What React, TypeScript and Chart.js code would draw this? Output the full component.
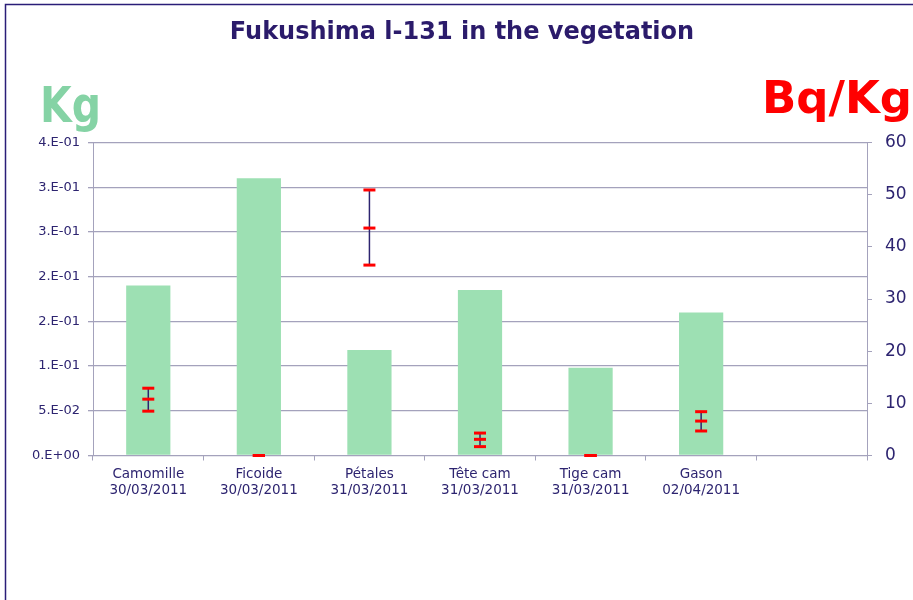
import React, { useEffect, useRef } from "react";
import { Chart, registerables } from "chart.js";

Chart.register(...registerables);

const categories: (string | string[])[] = [
  ["Camomille", "30/03/2011"],
  ["Ficoide", "30/03/2011"],
  ["Pétales", "31/03/2011"],
  ["Tête cam", "31/03/2011"],
  ["Tige cam", "31/03/2011"],
  ["Gason", "02/04/2011"],
  "",
];
const massKg = [0.190, 0.310, 0.118, 0.185, 0.098, 0.160, null];
const activityBqKg = [10.8, 0, 43.6, 3.1, 0, 6.6, null];
const activityHigh = [12.9, 0, 50.9, 4.3, 0, 8.4, null];
const activityLow = [8.5, 0, 36.5, 1.7, 0, 4.7, null];
const leftTickLabels = ["0.E+00", "5.E-02", "1.E-01", "2.E-01", "2.E-01", "3.E-01", "3.E-01", "4.E-01"];

const NAVY = "#2d2470";
const GRID = "#a4a2bc";
const FONT = "'DejaVu Sans', Verdana, sans-serif";

const decorPlugin = {
  id: "decor",
  beforeDraw(chart: any) {
    const ctx = chart.ctx;
    ctx.save();
    ctx.fillStyle = "#ffffff";
    ctx.fillRect(0, 0, chart.width, chart.height);
    ctx.strokeStyle = "#2a1d78";
    ctx.lineWidth = 1.5;
    ctx.beginPath();
    ctx.moveTo(5.5, chart.height);
    ctx.lineTo(5.5, 4.5);
    ctx.lineTo(chart.width, 4.5);
    ctx.stroke();
    ctx.restore();
  },
  afterDraw(chart: any) {
    const ctx = chart.ctx;
    ctx.save();
    ctx.textBaseline = "alphabetic";
    ctx.fillStyle = "#2b1b6b";
    ctx.font = `bold 24px ${FONT}`;
    ctx.textAlign = "center";
    ctx.fillText("Fukushima l-131 in the vegetation", 462, 39);

    ctx.fillStyle = "#85d3a5";
    ctx.font = `bold 44px ${FONT}`;
    ctx.textAlign = "left";
    ctx.save();
    ctx.translate(40, 122);
    ctx.scale(0.93, 1.12);
    ctx.fillText("Kg", 0, 0);
    ctx.restore();

    ctx.fillStyle = "#ff0000";
    ctx.font = `bold 45px ${FONT}`;
    ctx.textAlign = "right";
    ctx.fillText("Bq/Kg", 912, 113);
    ctx.restore();
  },
};

const errorBarPlugin = {
  id: "errorBars",
  afterDatasetsDraw(chart: any) {
    const ctx = chart.ctx;
    const x = chart.scales.x;
    const y1 = chart.scales.y1;
    ctx.save();
    for (let i = 0; i < activityBqKg.length; i++) {
      const v = activityBqKg[i];
      if (v === null) continue;
      const px = x.getPixelForValue(i);
      const yc = y1.getPixelForValue(v);
      const yh = y1.getPixelForValue(activityHigh[i] as number);
      const yl = y1.getPixelForValue(activityLow[i] as number);
      ctx.strokeStyle = NAVY;
      ctx.lineWidth = 1.5;
      ctx.beginPath();
      ctx.moveTo(px, yh);
      ctx.lineTo(px, yl);
      ctx.stroke();
      ctx.strokeStyle = "#ff0000";
      ctx.lineWidth = 3;
      for (const yy of [yh, yc, yl]) {
        ctx.beginPath();
        ctx.moveTo(px - 6, yy);
        ctx.lineTo(px + 6, yy);
        ctx.stroke();
      }
    }
    ctx.restore();
  },
};

export default function App() {
  const ref = useRef<HTMLCanvasElement | null>(null);
  useEffect(() => {
    if (!ref.current) return;
    const chart = new Chart(ref.current, {
      type: "bar",
      data: {
        labels: categories as any,
        datasets: [
          {
            label: "Kg",
            data: massKg as any,
            backgroundColor: "#9de0b3",
            borderWidth: 0,
            barPercentage: 0.4,
            categoryPercentage: 1,
            yAxisID: "y",
          },
        ],
      },
      options: {
        responsive: false,
        animation: false,
        devicePixelRatio: 1,
        layout: { padding: { top: 142.5, left: 0, right: 0, bottom: 0 } },
        plugins: { legend: { display: false }, tooltip: { enabled: false }, title: { display: false } },
        scales: {
          x: {
            offset: true,
            grid: { display: true, drawOnChartArea: false, offset: true, tickLength: 5, color: GRID },
            border: { display: true, color: GRID },
            ticks: { color: NAVY, font: { family: FONT, size: 13.5 }, padding: 6, maxRotation: 0, autoSkip: false },
            afterFit(scale: any) {
              scale.height = 144.5;
            },
          },
          y: {
            position: "left",
            min: 0,
            max: 0.35,
            ticks: {
              stepSize: 0.05,
              color: NAVY,
              font: { family: FONT, size: 13 },
              padding: 8,
              callback: (_v: any, i: number) => leftTickLabels[i],
            },
            grid: { color: GRID, tickLength: 5, lineWidth: 1.3 },
            border: { display: true, color: GRID },
            afterFit(scale: any) {
              scale.width = 93;
            },
          },
          y1: {
            position: "right",
            min: 0,
            max: 60,
            ticks: { stepSize: 10, color: NAVY, font: { family: FONT, size: 17 }, padding: 13 },
            grid: { drawOnChartArea: false, color: GRID, tickLength: 5 },
            border: { display: true, color: GRID },
            afterFit(scale: any) {
              scale.width = 46;
            },
          },
        },
      },
      plugins: [decorPlugin, errorBarPlugin],
    });
    return () => chart.destroy();
  }, []);
  return (
    <div style={{ position: "fixed", left: 0, top: 0, width: 913, height: 600 }}>
      <canvas ref={ref} width={913} height={600} style={{ display: "block" }} />
    </div>
  );
}
